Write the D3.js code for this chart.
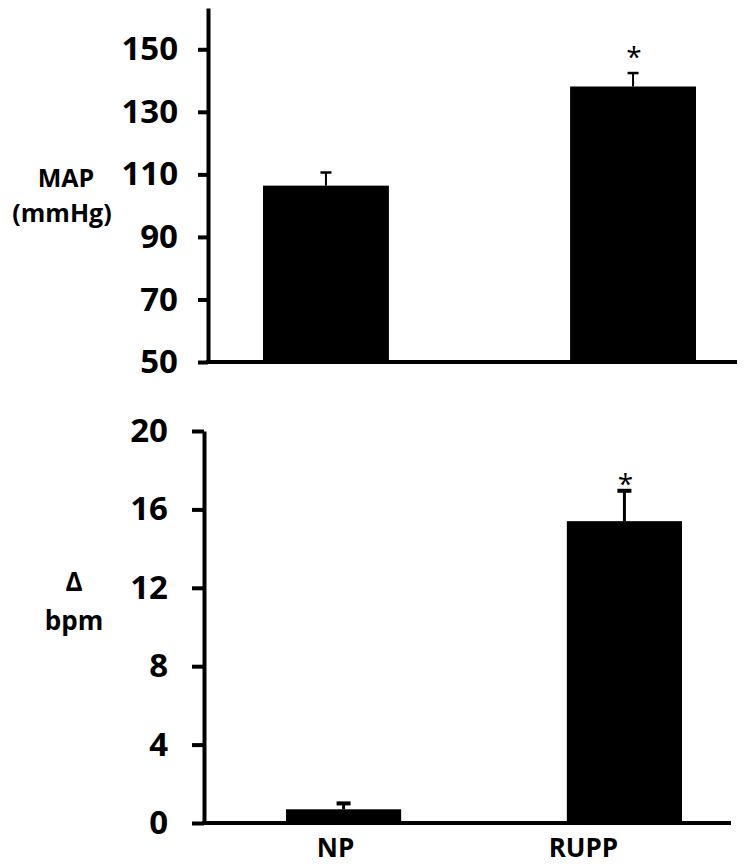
<html>
<head>
<style>
body {
  margin: 0;
  background: white;
}
svg {
  display: block;
}
text {
  font-family: "Open Sans", sans-serif;
  font-weight: bold;
  fill: black;
}
</style>
</head>
<body>
<script src="https://cdnjs.cloudflare.com/ajax/libs/d3/7.8.5/d3.min.js"></script>
<script>
var groups = ["NP", "RUPP"]
var mapMean = [106.4, 138.1]
var mapSem = [4.2, 4.3]
var mapTicks = [50, 70, 90, 110, 130, 150]
var bpmMean = [0.7, 15.4]
var bpmSem = [0.3, 1.55]
var bpmTicks = [0, 4, 8, 12, 16, 20]
var significant = [false, true]

var width = 745,
    height = 868

var svg = d3.select("body")
  .append("svg")
  .attr("width", width)
  .attr("height", height)

function rows(means, sems) {
  return groups.map(function(g, i) {
    return { name: g, mean: means[i], sem: sems[i], sig: significant[i] }
  })
}

function panel(opts) {
  var data = rows(opts.means, opts.sems)

  var x = d3.scaleBand()
    .domain(groups)
    .range(opts.barRange)
    .paddingInner(0.59)
    .paddingOuter(0)

  var y = d3.scaleLinear()
    .domain(opts.domain)
    .range(opts.yRange)

  var g = svg.append("g")

  // bars
  g.selectAll("rect.bar")
    .data(data)
    .enter().append("rect")
    .attr("class", "bar")
    .attr("x", function(d) { return x(d.name) })
    .attr("width", x.bandwidth())
    .attr("y", function(d) { return y(d.mean) })
    .attr("height", function(d) { return y(opts.domain[0]) - y(d.mean) })
    .attr("fill", "black")

  // error bars (upper only)
  g.selectAll("line.err")
    .data(data)
    .enter().append("line")
    .attr("x1", function(d) { return x(d.name) + x.bandwidth() / 2 })
    .attr("x2", function(d) { return x(d.name) + x.bandwidth() / 2 })
    .attr("y1", function(d) { return y(d.mean) })
    .attr("y2", function(d) { return y(d.mean + d.sem) })
    .attr("stroke", "black")
    .attr("stroke-width", opts.errWidth)

  g.selectAll("line.cap")
    .data(data)
    .enter().append("line")
    .attr("x1", function(d) { return x(d.name) + x.bandwidth() / 2 - opts.capWidth / 2 })
    .attr("x2", function(d) { return x(d.name) + x.bandwidth() / 2 + opts.capWidth / 2 })
    .attr("y1", function(d) { return y(d.mean + d.sem) })
    .attr("y2", function(d) { return y(d.mean + d.sem) })
    .attr("stroke", "black")
    .attr("stroke-width", opts.capThick)

  // asterisks
  g.selectAll("text.star")
    .data(data.filter(function(d) { return d.sig }))
    .enter().append("text")
    .attr("x", function(d) { return x(d.name) + x.bandwidth() / 2 + 1 })
    .attr("y", function(d) { return y(d.mean + d.sem) + opts.starDy })
    .attr("text-anchor", "middle")
    .style("font-size", "28px")
    .style("font-weight", "normal")
    .text("*")

  // y axis
  var axis = d3.axisLeft(y)
    .tickValues(opts.ticks)
    .tickSize(opts.tickSize)
    .tickSizeOuter(0)
    .tickPadding(opts.tickPadding)
    .tickFormat(d3.format("d"))

  var ax = g.append("g")
    .attr("transform", "translate(" + opts.axisX + ",0)")
    .call(axis)

  ax.select(".domain").attr("stroke", "black").attr("stroke-width", 4)
  ax.selectAll(".tick line").attr("stroke", "black").attr("stroke-width", 4)
  ax.selectAll(".tick text")
    .style("font-family", '"Open Sans", sans-serif')
    .style("font-weight", "bold")
    .style("font-size", "33px")
    .attr("fill", "black")

  // baseline
  g.append("line")
    .attr("x1", opts.axisX - 2)
    .attr("x2", opts.axisEnd)
    .attr("y1", y(opts.domain[0]))
    .attr("y2", y(opts.domain[0]))
    .attr("stroke", "black")
    .attr("stroke-width", 4)

  return { x: x, y: y }
}

panel({
  means: mapMean, sems: mapSem, ticks: mapTicks,
  domain: [50, 163.2], yRange: [362, 8],
  barRange: [263, 696], axisX: 208, axisEnd: 737,
  tickSize: 10, tickPadding: 20,
  errWidth: 2, capWidth: 11, capThick: 2.5, starDy: -6
})

panel({
  means: bpmMean, sems: bpmSem, ticks: bpmTicks,
  domain: [0, 20], yRange: [823, 431],
  barRange: [286, 682], axisX: 204, axisEnd: 731,
  tickSize: 12, tickPadding: 24,
  errWidth: 3, capWidth: 14, capThick: 4, starDy: 3
})

// axis titles
svg.append("text").attr("x", 66).attr("y", 187).attr("text-anchor", "middle")
  .style("font-size", "25px").text("MAP")
svg.append("text").attr("x", 62).attr("y", 222).attr("text-anchor", "middle")
  .style("font-size", "25px").text("(mmHg)")
svg.append("text").attr("x", 74).attr("y", 591).attr("text-anchor", "middle")
  .style("font-size", "26px").text("Δ")
svg.append("text").attr("x", 74).attr("y", 630).attr("text-anchor", "middle")
  .style("font-size", "26px").text("bpm")

// group labels, sitting a little left of their bars as in the original
var labelShift = [-8, -41]
var labelX = d3.scaleBand().domain(groups).range([286, 682]).paddingInner(0.59)
svg.selectAll("text.group")
  .data(groups)
  .enter().append("text")
  .attr("class", "group")
  .attr("x", function(d, i) { return labelX(d) + labelX.bandwidth() / 2 + labelShift[i] })
  .attr("y", 857)
  .attr("text-anchor", "middle")
  .style("font-size", "26px")
  .text(function(d) { return d })
</script>
</body>
</html>
